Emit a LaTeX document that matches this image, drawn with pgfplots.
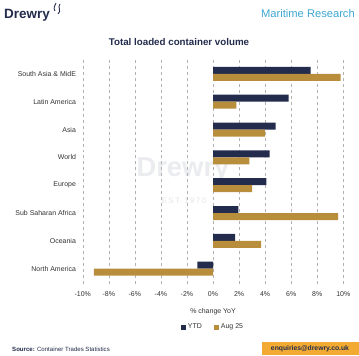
\documentclass[border=0pt]{standalone}
\usepackage{pgfplots}
\pgfplotsset{compat=1.18}
\usepackage{fontspec}
\setmainfont{Liberation Sans}
\definecolor{navy}{HTML}{232C4C}
\definecolor{gold}{HTML}{B88E3C}
\definecolor{skyb}{HTML}{3FA7D2}
\definecolor{boxor}{HTML}{F2AA33}
\definecolor{txtg}{HTML}{333333}
\begin{document}
\begin{tikzpicture}[x=1bp,y=1bp]
\path[fill=white] (0,0) rectangle (359,356);
% header
\node[anchor=west,inner sep=0,font=\bfseries\fontsize{13.5}{14}\selectfont,text=navy] at (4,341) {Drewry};
\draw[navy,line width=0.9bp] (55,345) .. controls (53,348) and (55,351) .. (56,353);
\draw[navy,line width=0.9bp] (58,342) .. controls (62,345) and (57,349) .. (60,352);
\node[anchor=east,inner sep=0,font=\fontsize{11.2}{12}\selectfont,text=skyb] at (355,342) {Maritime Research};
\node[inner sep=0,font=\bfseries\fontsize{9.8}{10}\selectfont,text=navy] at (179,314) {Total loaded container volume};
% watermark
\node[inner sep=0,font=\bfseries\fontsize{27.5}{28}\selectfont,text=navy!9] at (183,186) {Drewry};
\node[inner sep=0,font=\fontsize{8}{8}\selectfont,text=navy!12] at (184,155) {E\,S\,T\ \ 1\,9\,7\,0};
% footer
\node[anchor=west,inner sep=0,font=\fontsize{6.1}{6.5}\selectfont,text=navy] at (12,7) {\textbf{Source:} Container Trades Statistics};
\fill[boxor] (262,1) rectangle (359,14);
\node[inner sep=0,font=\bfseries\fontsize{6.8}{7}\selectfont,text=navy] at (310,7.5) {enquiries@drewry.co.uk};
\begin{axis}[
  at={(82.7bp,72bp)}, anchor=south west,
  scale only axis, width=260.6bp, height=224bp,
  xmin=-10, xmax=10, ymin=-0.55, ymax=7.5,
  xbar, bar width=7bp,
  axis line style={draw=none},
  tick style={draw=none},
  xtick={-10,-8,...,10},
  xticklabels={-10\%,-8\%,-6\%,-4\%,-2\%,0\%,2\%,4\%,6\%,8\%,10\%},
  ytick={0,...,7},
  yticklabels={North America,Oceania,Sub Saharan Africa,Europe,World,Asia,Latin America,South Asia \& MidE},
  ticklabel style={font=\fontsize{7}{8}\selectfont,text=txtg},
  xticklabel style={yshift=-4bp},
  yticklabel style={xshift=1bp},
  xmajorgrids, major grid style={dashed,gray!60,line width=0.4pt},
  xlabel={\% change YoY},
  xlabel style={at={(axis description cs:0.5,0)},anchor=center,yshift=-28bp,font=\fontsize{7}{8}\selectfont,text=txtg},
  legend style={at={(0.5,0)},anchor=center,yshift=-43bp,draw=none,fill=none,legend columns=2,
    font=\fontsize{7}{8}\selectfont,text=txtg,
    /tikz/every even column/.append style={column sep=10bp}},
  legend image code/.code={\fill[#1] (0bp,-2.5bp) rectangle (5bp,2.5bp);},
]
\addplot[fill=navy,draw=none,bar shift=3.5bp] coordinates {
 (-1.2,0) (1.7,1) (1.95,2) (4.1,3) (4.35,4) (4.8,5) (5.8,6) (7.5,7)};
\addlegendentry{YTD}
\addplot[fill=gold,draw=none,bar shift=-3.5bp] coordinates {
 (-9.15,0) (3.7,1) (9.6,2) (3.0,3) (2.8,4) (4.0,5) (1.8,6) (9.8,7)};
\addlegendentry{Aug 25}
\end{axis}
\end{tikzpicture}
\end{document}
